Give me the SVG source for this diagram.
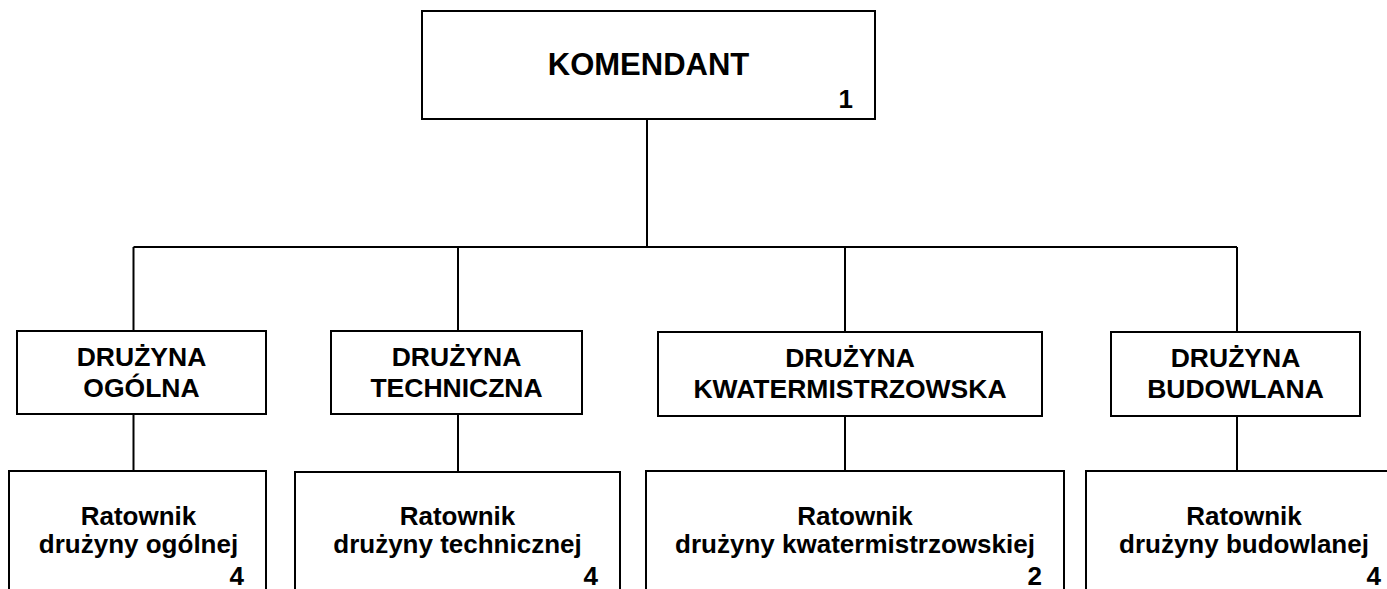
<svg xmlns="http://www.w3.org/2000/svg" width="1387" height="589" viewBox="0 0 1387 589">
<style>
.box{fill:#fff;stroke:#000;stroke-width:2}
.ln{stroke:#000;stroke-width:2;fill:none}
text{font-family:"Liberation Sans",Arial,sans-serif;font-weight:bold;fill:#000}
.t{font-size:26.5px;text-anchor:middle}
.r{font-size:26px;text-anchor:middle}
.n{font-size:26px;text-anchor:end}
.k{font-size:31px;text-anchor:middle}
</style>
<rect width="1387" height="589" fill="#fff"/>
<g id="connectors">
<path class="ln" d="M647 119V247M133.5 247H1237M133.5 247V331M458 247V331M845 247V332M1237 247V332"/>
<path class="ln" d="M133.5 414V471M458 414V471M845 416V471M1237 416V471"/>
</g>
<g id="komendant">
<rect class="box" x="422" y="11" width="453" height="108"/>
<text class="k" x="648.5" y="75">KOMENDANT</text>
<text class="n" x="853" y="108">1</text>
</g>
<g id="druzyna-ogolna">
<rect class="box" x="17" y="331" width="249" height="83"/>
<text class="t" x="141.5" y="366">DRUŻYNA</text>
<text class="t" x="141.5" y="397">OGÓLNA</text>
</g>
<g id="druzyna-techniczna">
<rect class="box" x="331" y="331" width="251" height="83"/>
<text class="t" x="456.5" y="366">DRUŻYNA</text>
<text class="t" x="456.5" y="397">TECHNICZNA</text>
</g>
<g id="druzyna-kwatermistrzowska">
<rect class="box" x="658" y="332" width="384" height="84"/>
<text class="t" x="850" y="367">DRUŻYNA</text>
<text class="t" x="850" y="398">KWATERMISTRZOWSKA</text>
</g>
<g id="druzyna-budowlana">
<rect class="box" x="1111" y="332" width="249" height="84"/>
<text class="t" x="1235.5" y="367">DRUŻYNA</text>
<text class="t" x="1235.5" y="398">BUDOWLANA</text>
</g>
<g id="ratownik-ogolnej">
<rect class="box" x="9" y="471" width="257" height="140"/>
<text class="r" x="138.5" y="525">Ratownik</text>
<text class="r" x="138.5" y="553">drużyny ogólnej</text>
<text class="n" x="244" y="585">4</text>
</g>
<g id="ratownik-technicznej">
<rect class="box" x="295" y="472" width="325" height="140"/>
<text class="r" x="457.5" y="525">Ratownik</text>
<text class="r" x="457.5" y="553">drużyny technicznej</text>
<text class="n" x="598" y="585">4</text>
</g>
<g id="ratownik-kwatermistrzowskiej">
<rect class="box" x="646" y="471" width="418" height="140"/>
<text class="r" x="855" y="525">Ratownik</text>
<text class="r" x="855" y="553">drużyny kwatermistrzowskiej</text>
<text class="n" x="1042" y="585">2</text>
</g>
<g id="ratownik-budowlanej">
<rect class="box" x="1086" y="471" width="320" height="140"/>
<text class="r" x="1244" y="525">Ratownik</text>
<text class="r" x="1244" y="553">drużyny budowlanej</text>
<text class="n" x="1381" y="585">4</text>
</g>
</svg>
